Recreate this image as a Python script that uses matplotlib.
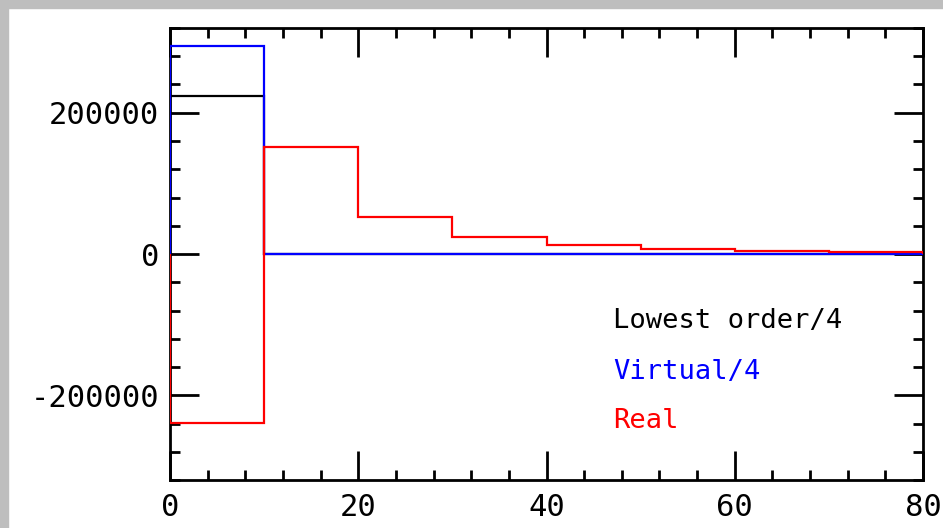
import matplotlib

matplotlib.use("Agg")
import matplotlib.pyplot as plt
from matplotlib.patches import Rectangle
from matplotlib.ticker import MultipleLocator

plt.rcParams["font.family"] = ["DejaVu Sans Mono", "DejaVu Sans"]
plt.rcParams["axes.unicode_minus"] = False

# bin edges and per-bin values
edges = [0, 10, 20, 30, 40, 50, 60, 70, 80]
lowest_order = [224000, 0, 0, 0, 0, 0, 0, 0]
virtual = [294500, 0, 0, 0, 0, 0, 0, 0]
real = [-239700, 151800, 52500, 24100, 12200, 7100, 4300, 2300]

labels = ["Lowest order/4", "Virtual/4", "Real"]
colors = ["black", "#0000ff", "#ff0000"]

W, H = 943, 528
fig = plt.figure(figsize=(W / 100, H / 100), dpi=100)
fig.patch.set_facecolor("white")

# grey frame on top and left edges
fig.patches.append(Rectangle((0, 1 - 8 / H), 1, 8 / H, transform=fig.transFigure,
                             color="#bebebe", zorder=0))
fig.patches.append(Rectangle((0, 0), 8 / W, 1, transform=fig.transFigure,
                             color="#bebebe", zorder=0))

ax = fig.add_axes([170 / W, 48 / H, 753 / W, 452 / H])

for vals, col in zip([lowest_order, virtual, real], colors):
    ax.stairs(vals, edges, baseline=0, color=col, linewidth=1.6, zorder=3)

ax.set_xlim(0, 80)
ax.set_ylim(-320000, 320000)
ax.xaxis.set_major_locator(MultipleLocator(20))
ax.xaxis.set_minor_locator(MultipleLocator(4))
ax.yaxis.set_major_locator(MultipleLocator(200000))
ax.yaxis.set_minor_locator(MultipleLocator(40000))

ax.tick_params(which="both", direction="in", top=True, right=True,
               width=2, labelsize=22)
ax.tick_params(which="major", length=21)
ax.tick_params(which="minor", length=7)
ax.tick_params(axis="x", pad=9)
ax.tick_params(axis="y", pad=8)
for s in ax.spines.values():
    s.set_linewidth(2)

for lab, col, yy in zip(labels, colors, [0.352, 0.239, 0.131]):
    ax.text(0.588, yy, lab, color=col, fontsize=19.5, va="center", ha="left",
            transform=ax.transAxes)

fig.savefig("out.png", dpi=100)
